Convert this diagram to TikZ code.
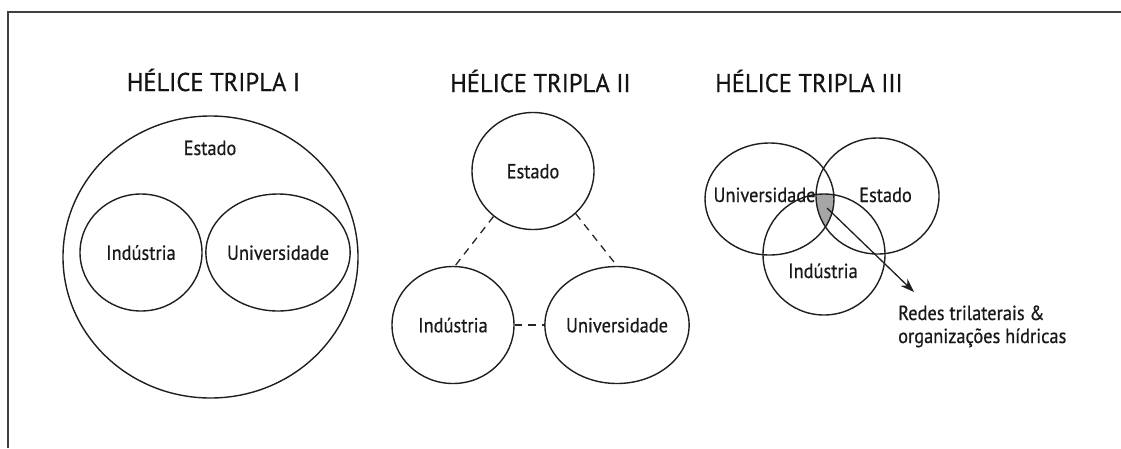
\documentclass[tikz,border=0pt]{standalone}
\usepackage{fontspec}
\setmainfont{PT Sans}[FakeStretch=0.9, FakeBold=0.6]
\newfontfamily\ttlfont{PT Sans}[FakeStretch=0.955, FakeBold=0.6]
\usetikzlibrary{shapes.geometric,arrows.meta}
\begin{document}
\begin{tikzpicture}[x=1pt,y=-1pt,
  circ/.style={ellipse, draw=black!88, line width=1.4pt, inner sep=0pt,
    minimum width=122pt, minimum height=117pt, text=black!90,
    font=\fontsize{20.4}{24}\selectfont, text height=14.6pt, text depth=0pt},
  lbl/.style={font=\fontsize{20.4}{24}\selectfont, anchor=base, inner sep=0pt, text=black!90},
  ttl/.style={font=\ttlfont\fontsize{25.7}{30}\selectfont, anchor=base, inner sep=0pt, text=black!92},
  note/.style={font=\fontsize{20.4}{24}\selectfont, anchor=base west, inner sep=0pt, text=black!90},
  dashline/.style={draw=black!85, line width=1.3pt, dash pattern=on 7.5pt off 6pt},
  frame/.style={draw=black!75, line width=1.5pt}
]
\useasboundingbox (0,0) rectangle (1121,448);
\coordinate (F0) at (8,448);
\coordinate (F1) at (8,12);
\coordinate (F2) at (1121,12);
\draw[frame] (F0) -- (F1) -- (F2);

% Panel I
\node[ttl] (t1) at (213.5,91) {HÉLICE TRIPLA I};
\node[circ, minimum width=295pt, minimum height=282pt] (E1) at (210.5,257) {};
\node[lbl] (e1) at (210,155) {Estado};
\node[circ] (I1) at (141,252.5) {Indústria};
\node[circ] (U1) at (278,252.5) {Universidade};

% Panel II
\node[ttl] (t2) at (540.5,92) {HÉLICE TRIPLA II};
\node[circ] (E2) at (533,171) {Estado};
\node[circ] (I2) at (453,325) {Indústria};
\node[circ] (U2) at (617,325) {Universidade};
\draw[dashline] (E2.229) -- (I2.88);
\draw[dashline] (E2.315) -- (U2.90);
\draw[dashline] (I2.east) -- (U2.west);

% Panel III
\node[ttl] (t3) at (809,92) {HÉLICE TRIPLA III};
\begin{scope}
  \clip (769.5,199) ellipse [x radius=64.5pt, y radius=56pt];
  \clip (877.5,196) ellipse [x radius=61.5pt, y radius=58pt];
  \fill[black!35] (824,254.5) ellipse [x radius=61pt, y radius=60.5pt];
\end{scope}
\node[circ, minimum width=129pt, minimum height=112pt] (U3) at (769.5,199) {};
\node[circ, minimum width=123pt, minimum height=116pt] (E3) at (877.5,196) {};
\node[circ, minimum width=122pt, minimum height=121pt] (I3) at (824,254.5) {};
\node[lbl] (u3) at (764.5,202) {Universidade};
\node[lbl] (e3) at (885.5,202) {Estado};
\node[lbl] (i3) at (823,278) {Indústria};
\node[note] (r1) at (898,320) {Redes trilaterais \&};
\node[note] (r2) at (898,343) {organizações hídricas};
\coordinate (A0) at (827,208);
\coordinate (A1) at (914,292);
\draw[draw=black!88, line width=1.3pt, -{Stealth[length=14pt,width=10pt]}] (A0) -- (A1);
\end{tikzpicture}
\end{document}
